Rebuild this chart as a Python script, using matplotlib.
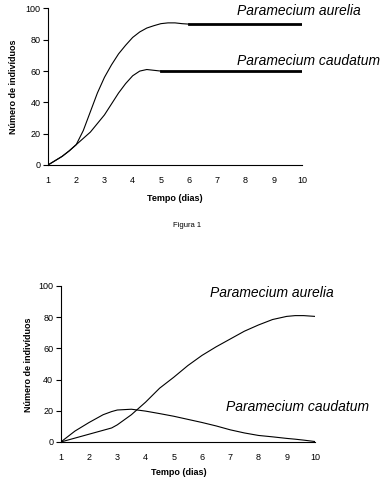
import numpy as np
import matplotlib
matplotlib.use("Agg")
import matplotlib.pyplot as plt

plt.rcParams['font.family'] = ['Liberation Sans', 'DejaVu Sans']

# Figura 1 - cultures separated
dias_1 = [1, 1.5, 1.75, 2, 2.25, 2.5, 2.75, 3, 3.25, 3.5, 3.75, 4, 4.25, 4.5, 4.75, 5, 5.25, 5.5, 5.75, 6]
aurelia_1 = [0, 5.5, 9, 13, 22, 34, 46, 56, 64, 71, 76.5, 81.5, 85, 87.5, 89, 90.3, 90.8, 90.8, 90.3, 90]
aurelia_1_plato = ([6, 10], [90, 90])

dias_1c = [1, 1.5, 1.75, 2, 2.5, 3, 3.25, 3.5, 3.75, 4, 4.25, 4.5, 4.75, 5]
caudatum_1 = [0, 5.5, 9, 13, 21, 32, 39, 46, 52, 57, 60, 61, 60.5, 60]
caudatum_1_plato = ([5, 10], [60, 60])

# Figura 2 - cultures together
dias_2 = [1, 1.5, 2, 2.5, 2.8, 3, 3.5, 4, 4.5, 5, 5.5, 6, 6.5, 7, 7.5, 8, 8.5, 9, 9.3, 9.6, 10]
aurelia_2 = [0, 2.5, 5, 7.5, 9, 11, 17.5, 25.5, 34.5, 41.5, 49, 55.5, 61, 66, 71, 75, 78.5, 80.5, 81, 81, 80.5]
caudatum_2 = [0, 7, 12.5, 17.5, 19.5, 20.5, 21, 19.8, 18.2, 16.5, 14.5, 12.5, 10.3, 7.8, 5.8, 4.2, 3.3, 2.3, 1.8, 1.2, 0.3]

dias_ticks = list(range(1, 11))
y_ticks = [0, 20, 40, 60, 80, 100]

fig = plt.figure(figsize=(3.85, 4.82), dpi=100)


def estilo(ax):
        ax.set_xlim(1, 10)
        ax.set_ylim(0, 100)
        ax.spines['top'].set_visible(False)
        ax.spines['right'].set_visible(False)
        ax.spines['left'].set_linewidth(0.8)
        ax.spines['bottom'].set_linewidth(0.8)
        ax.set_yticks(y_ticks)
        ax.set_xticks(dias_ticks)
        ax.set_xticks([3, 5, 7, 9], minor=True)
        ax.tick_params(axis='y', direction='out', length=3.5, width=0.8, labelsize=6.5, pad=2)
        ax.tick_params(axis='x', which='major', length=0, labelsize=6.5, pad=8)
        ax.tick_params(axis='x', which='minor', direction='inout', length=5, width=0.8)


ax1 = fig.add_axes([0.1247, 0.6577, 0.6597, 0.3247])
estilo(ax1)
ax1.plot(dias_1, aurelia_1, color='black', lw=0.8)
ax1.plot(*aurelia_1_plato, color='black', lw=2)
ax1.plot(dias_1c, caudatum_1, color='black', lw=0.8)
ax1.plot(*caudatum_1_plato, color='black', lw=2)
ax1.text(7.70, 98.5, 'Paramecium aurelia', style='italic', fontsize=10, va='center', clip_on=False)
ax1.text(7.70, 66.5, 'Paramecium caudatum', style='italic', fontsize=10, va='center', clip_on=False)

fig.text(0.4545, 0.589, 'Tempo (dias)', fontsize=6.5, fontweight='bold', ha='center', va='center')
fig.text(0.036, 0.8195, 'Número de indivíduos', fontsize=6.5, fontweight='bold', rotation=90, ha='center', va='center')
fig.text(0.486, 0.533, 'Figura 1', fontsize=5.5, ha='center', va='center')

ax2 = fig.add_axes([0.158, 0.083, 0.66, 0.3237])
estilo(ax2)
ax2.plot(dias_2, aurelia_2, color='black', lw=0.8)
ax2.plot(dias_2, caudatum_2, color='black', lw=0.8)
ax2.text(6.28, 95.5, 'Paramecium aurelia', style='italic', fontsize=10, va='center', clip_on=False)
ax2.text(6.85, 22.4, 'Paramecium caudatum', style='italic', fontsize=10, va='center', clip_on=False)

fig.text(0.465, 0.0207, 'Tempo (dias)', fontsize=6.5, fontweight='bold', ha='center', va='center')
fig.text(0.073, 0.2427, 'Número de indivíduos', fontsize=6.5, fontweight='bold', rotation=90, ha='center', va='center')

fig.savefig('out.png', dpi=100)
